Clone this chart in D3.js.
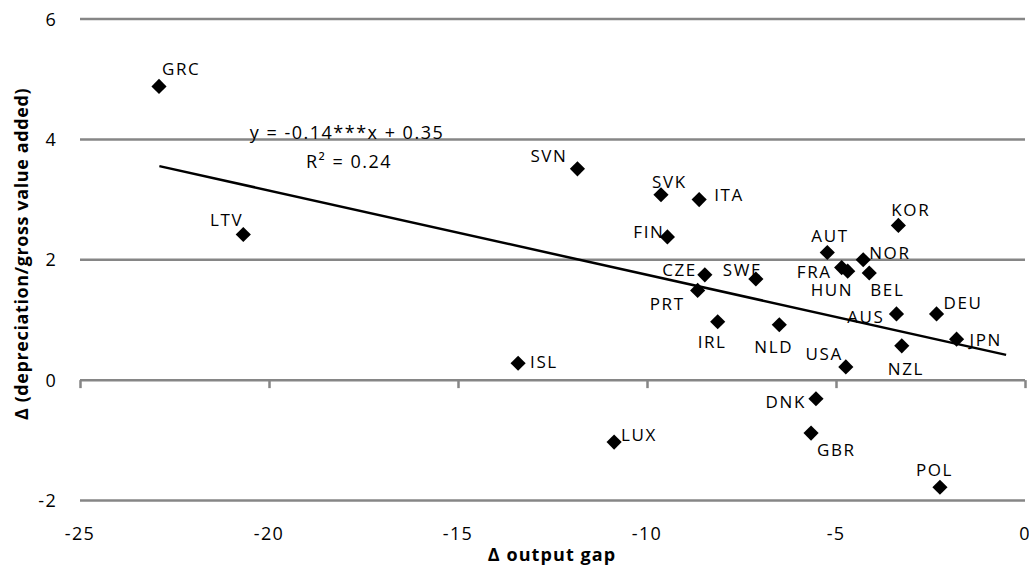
<!DOCTYPE html>
<html>
<head>
<meta charset="utf-8">
<script src="https://cdn.jsdelivr.net/npm/d3@7"></script>
<style>
  body { margin: 0; background: #fff; }
  svg { display: block; font-family: "Open Sans", "DejaVu Sans", sans-serif; }
</style>
</head>
<body>
<div id="chart-container"></div>
<script>
// Country codes and their values.
const countries = ["GRC", "LTV", "SVN", "SVK", "ITA", "FIN", "CZE", "PRT", "SWE", "IRL", "NLD", "ISL", "LUX",
    "KOR", "AUT", "NOR", "FRA", "HUN", "BEL", "AUS", "DEU", "JPN", "NZL", "USA", "DNK", "GBR", "POL"];
const outputGap = [-22.91, -20.68, -11.84, -9.63, -8.62, -9.46, -8.47, -8.66, -7.12, -8.13, -6.5, -13.41, -10.87,
    -3.35, -5.23, -4.28, -4.85, -4.69, -4.12, -3.4, -2.34, -1.81, -3.26, -4.74, -5.53, -5.66, -2.25];
const depreciation = [4.88, 2.42, 3.51, 3.08, 3.0, 2.38, 1.75, 1.49, 1.68, 0.97, 0.92, 0.28, -1.03,
    2.57, 2.12, 2.0, 1.87, 1.81, 1.78, 1.1, 1.1, 0.68, 0.57, 0.22, -0.31, -0.88, -1.78];

// Trend line: y = slope * x + intercept, drawn over this x range.
const slope = -0.14;
const intercept = 0.35;
const trendRange = [-22.9, -0.5];

const xTicks = [-25, -20, -15, -10, -5, 0];
const yTicks = [-2, 0, 2, 4, 6];

// Label placement next to each marker: [dx, dy, anchor].
const labelPlace = {
    GRC: [3, -11, "start"], LTV: [0, -8, "end"], SVN: [-10, -7, "end"], SVK: [-9, -7, "start"],
    ITA: [15, 1, "start"], FIN: [-3, 1, "end"], CZE: [-8, 1, "end"], PRT: [-13, 20, "end"],
    SWE: [-33, -3, "start"], IRL: [-20, 26, "start"], NLD: [-25, 28, "start"], ISL: [12, 5, "start"],
    LUX: [7, -1, "start"], KOR: [-7, -9, "start"], AUT: [-16, -11, "start"], NOR: [6, -1, "start"],
    FRA: [-10, 10, "end"], HUN: [-37, 25, "start"], BEL: [1, 23, "start"], AUS: [-12, 9, "end"],
    DEU: [7, -5, "start"], JPN: [13, 7, "start"], NZL: [-14, 29, "start"], USA: [-3, -7, "end"],
    DNK: [-10, 9, "end"], GBR: [6, 23, "start"], POL: [-24, -11, "start"]
};

const data = countries.map((name, i) => ({ name, x: outputGap[i], y: depreciation[i] }));

const width = 1029;
const height = 567;

const svg = d3.select("#chart-container")
    .append("svg")
    .attr("width", width)
    .attr("height", height);

const x = d3.scaleLinear().domain([-25, 0]).range([80, 1025]);
const y = d3.scaleLinear().domain([-2, 6]).range([500.5, 19]);

const grey = "#868686";

// Horizontal gridlines (except the zero line, which is the x axis).
svg.append("g")
    .selectAll("line")
    .data(yTicks.filter((d) => d !== 0))
    .enter()
    .append("line")
    .attr("x1", x(-25))
    .attr("x2", x(0))
    .attr("y1", (d) => y(d))
    .attr("y2", (d) => y(d))
    .attr("stroke", grey)
    .attr("stroke-width", 2.5);

// X axis along y = 0, ticks pointing down.
const xAxis = svg.append("g")
    .attr("transform", "translate(0," + y(0) + ")")
    .call(d3.axisBottom(x).tickValues(xTicks).tickSize(8).tickFormat(""));
xAxis.select(".domain").remove();
xAxis.insert("line", ":first-child")
    .attr("x1", x(-25)).attr("x2", x(0))
    .attr("stroke", grey).attr("stroke-width", 2.5);
xAxis.selectAll(".tick line").attr("stroke", grey).attr("stroke-width", 2.5);

// X tick labels at the bottom of the plot.
svg.append("g")
    .selectAll("text")
    .data(xTicks)
    .enter()
    .append("text")
    .attr("x", (d) => x(d))
    .attr("y", 540)
    .attr("text-anchor", "middle")
    .style("font-size", "18px")
    .style("letter-spacing", "1.3px")
    .text((d) => d);

// Y tick labels.
svg.append("g")
    .selectAll("text")
    .data(yTicks)
    .enter()
    .append("text")
    .attr("x", 57)
    .attr("y", (d) => y(d) + 6.5)
    .attr("text-anchor", "end")
    .style("font-size", "18px")
    .style("letter-spacing", "1.3px")
    .text((d) => d);

// Axis titles.
svg.append("text")
    .attr("x", 552)
    .attr("y", 561)
    .attr("text-anchor", "middle")
    .style("font-size", "18px")
    .style("font-weight", "bold")
    .style("letter-spacing", "1.1px")
    .text("Δ output gap");

svg.append("text")
    .attr("transform", "translate(28,254) rotate(-90)")
    .attr("text-anchor", "middle")
    .style("font-size", "18px")
    .style("font-weight", "bold")
    .style("letter-spacing", "0.6px")
    .text("Δ (depreciation/gross value added)");

// Trend line.
svg.append("path")
    .datum(trendRange)
    .attr("fill", "none")
    .attr("stroke", "#000")
    .attr("stroke-width", 2.5)
    .attr("d", d3.line()
        .x((d) => x(d))
        .y((d) => y(slope * d + intercept)));

// Equation text.
svg.append("text")
    .attr("x", 347)
    .attr("y", 139)
    .attr("text-anchor", "middle")
    .style("font-size", "18px")
    .style("letter-spacing", "1.5px")
    .text("y = -0.14***x + 0.35");

svg.append("text")
    .attr("x", 349)
    .attr("y", 168)
    .attr("text-anchor", "middle")
    .style("font-size", "18px")
    .style("letter-spacing", "1.5px")
    .text("R² = 0.24");

// Diamond markers.
svg.append("g")
    .selectAll("path")
    .data(data)
    .enter()
    .append("path")
    .attr("transform", (d) => "translate(" + x(d.x) + "," + y(d.y) + ") rotate(45)")
    .attr("d", d3.symbol().type(d3.symbolSquare).size(115))
    .attr("fill", "#000");

// Country labels.
svg.append("g")
    .selectAll("text")
    .data(data)
    .enter()
    .append("text")
    .attr("x", (d) => x(d.x) + labelPlace[d.name][0])
    .attr("y", (d) => y(d.y) + labelPlace[d.name][1])
    .attr("text-anchor", (d) => labelPlace[d.name][2])
    .style("font-size", "17px")
    .style("letter-spacing", "1.6px")
    .text((d) => d.name);
</script>
</body>
</html>
